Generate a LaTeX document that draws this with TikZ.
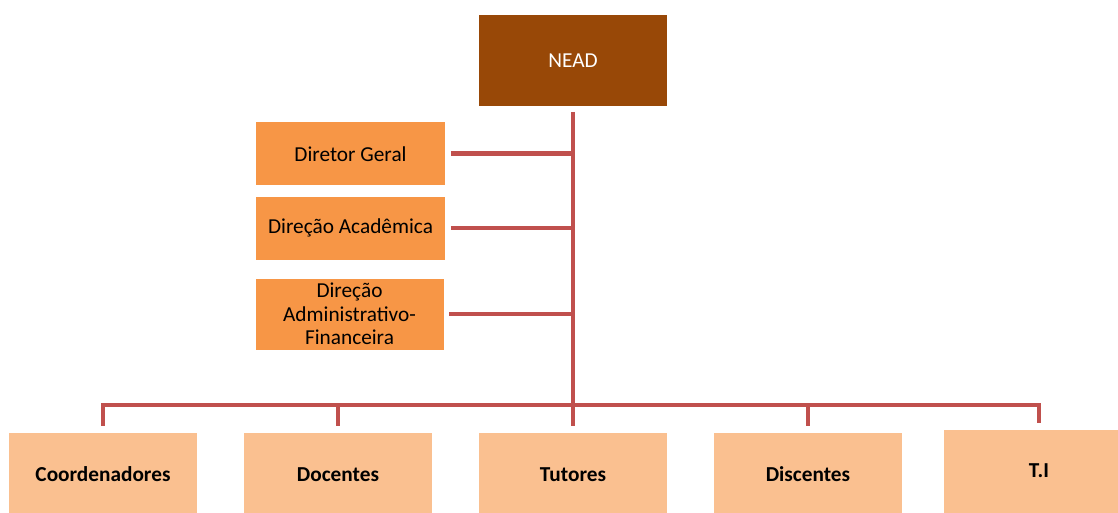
\documentclass[tikz,border=0pt]{standalone}
\usepackage{fontspec}
\setmainfont{Carlito}
\definecolor{neadc}{HTML}{984807}
\definecolor{dirc}{HTML}{F79646}
\definecolor{basec}{HTML}{FAC090}
\definecolor{linec}{HTML}{C0504D}
\begin{document}
\begin{tikzpicture}[x=1pt,y=-1pt,
  boxbase/.style={draw=white, line width=0.8pt, inner sep=0pt, align=center,
    font=\fontsize{21.3}{23.7}\selectfont},
  neadbox/.style={boxbase, fill=neadc, text=white, minimum width=189pt, minimum height=92pt},
  dirbox/.style={boxbase, fill=dirc, text=black, minimum width=190pt},
  basebox/.style={boxbase, fill=basec, text=black, minimum width=189pt, minimum height=88pt,
    text height=14pt, text depth=4pt,
    font=\fontsize{21.3}{23.7}\selectfont\bfseries},
  conn/.style={draw=linec, line width=4.5pt, line join=miter}]
\useasboundingbox (0,0) rectangle (1118,512);
\clip (0,0) rectangle (1118,512);
\fill[white] (0,0) rectangle (1118,512);

\node[neadbox] (nead) at (573,60.5) {NEAD};

\node[dirbox, minimum height=64pt] (dg) at (350.5,153.7) {Diretor Geral};
\node[dirbox, minimum height=64pt] (da) at (350.5,228) {Direção Acadêmica};
\node[dirbox, minimum height=72pt, minimum width=189pt] (daf) at (349.5,314) {Direção\\Administrativo-\\Financeira};

\node[basebox] (coord) at (103,476) {Coordenadores};
\node[basebox] (doc) at (338,476) {Docentes};
\node[basebox] (tut) at (573,476) {Tutores};
\node[basebox] (disc) at (808,476) {Discentes};
\node[basebox, minimum width=192pt, minimum height=100pt, text depth=17pt, anchor=north] (ti) at (1039,429) {T.I};

\coordinate (bus) at (573,405);

\draw[conn] ([yshift=-5pt]nead.south) -- (bus);
\draw[conn] ([xshift=5pt]dg.east) -- (dg.east -| bus);
\draw[conn] ([xshift=5pt]da.east) -- (da.east -| bus);
\draw[conn] ([xshift=5pt]daf.east) -- (daf.east -| bus);

\draw[conn] (bus) -| ([yshift=6pt]coord.north);
\draw[conn] (bus) -| ([yshift=6pt]doc.north);
\draw[conn] (bus) -- ([yshift=6pt]tut.north);
\draw[conn] (bus) -| ([yshift=6pt]disc.north);
\draw[conn] (bus) -| ([yshift=6pt]ti.north);
\end{tikzpicture}
\end{document}
